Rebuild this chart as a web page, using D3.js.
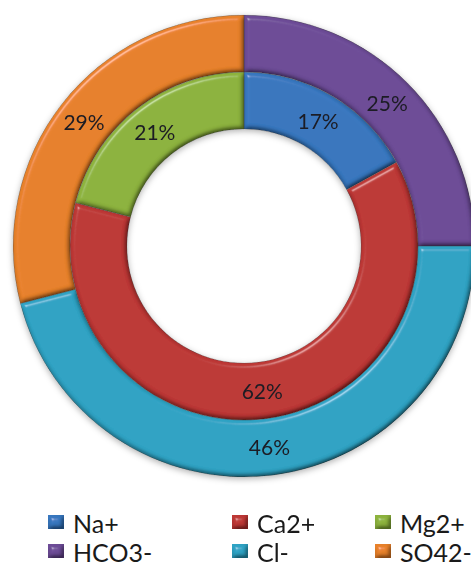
<!DOCTYPE html>
<html>
<head>
<meta charset="utf-8">
<script src="https://cdn.jsdelivr.net/npm/d3@7"></script>
<style>
  html, body { margin: 0; padding: 0; background: #ffffff; }
  svg { display: block; }
</style>
</head>
<body>
<svg id="chart" width="471" height="575"></svg>
<script>
// Ion composition (% of total), inner ring = cations, outer ring = anions
const cations = ["Na+", "Ca2+", "Mg2+"];
const cationValues = [17, 62, 21];
const anions = ["HCO3-", "Cl-", "SO42-"];
const anionValues = [25, 46, 29];

const legendItems = ["Na+", "Ca2+", "Mg2+", "HCO3-", "Cl-", "SO42-"];
const colors = ["#3777bf", "#bd3735", "#8db33e", "#6d4c97", "#2fa3c4", "#e8812a"];

const svg = d3.select("#chart");
const cx = 244, cy = 246;
const rHole = 117, rMid = 174, rOuter = 231;

const color = d3.scaleOrdinal().domain(legendItems).range(colors);

const defs = svg.append("defs");

// Soft bevel: lighting computed from a blurred alpha height map
const bevel = defs.append("filter").attr("id", "bevel")
  .attr("x", "-5%").attr("y", "-5%").attr("width", "110%").attr("height", "110%");
bevel.append("feGaussianBlur").attr("in", "SourceAlpha").attr("stdDeviation", 2.4).attr("result", "blur");
const spec = bevel.append("feSpecularLighting").attr("in", "blur")
  .attr("surfaceScale", 4).attr("specularConstant", 1).attr("specularExponent", 60)
  .attr("lighting-color", "#ffffff").attr("result", "spec");
spec.append("feDistantLight").attr("azimuth", 235).attr("elevation", 45);
bevel.append("feComposite").attr("in", "spec").attr("in2", "SourceAlpha").attr("operator", "in").attr("result", "specIn");
const diff = bevel.append("feDiffuseLighting").attr("in", "blur")
  .attr("surfaceScale", 4).attr("diffuseConstant", 1.12)
  .attr("lighting-color", "#ffffff").attr("result", "diff");
diff.append("feDistantLight").attr("azimuth", 235).attr("elevation", 62);
bevel.append("feComposite").attr("in", "SourceGraphic").attr("in2", "diff")
  .attr("operator", "arithmetic").attr("k1", 1).attr("k2", 0).attr("k3", 0).attr("k4", 0).attr("result", "lit");
bevel.append("feComposite").attr("in", "lit").attr("in2", "specIn")
  .attr("operator", "arithmetic").attr("k1", 0).attr("k2", 1).attr("k3", 0.3).attr("k4", 0).attr("result", "shaded");
bevel.append("feComposite").attr("in", "shaded").attr("in2", "SourceAlpha").attr("operator", "in");

// Drop shadow around the whole doughnut
const shadow = defs.append("filter").attr("id", "shadow")
  .attr("x", "-10%").attr("y", "-10%").attr("width", "120%").attr("height", "120%");
shadow.append("feDropShadow").attr("dx", 0).attr("dy", 2).attr("stdDeviation", 3)
  .attr("flood-color", "#000").attr("flood-opacity", 0.3);

const pie = d3.pie().sort(null).value(d => d.value);

const rings = [
  { names: anions, values: anionValues, r0: rMid, r1: rOuter },
  { names: cations, values: cationValues, r0: rHole, r1: rMid }
];

const chart = svg.append("g").attr("transform", `translate(${cx},${cy})`);
const ringLayer = chart.append("g").attr("filter", "url(#shadow)");

rings.forEach(ring => {
  const data = ring.names.map((n, i) => ({ name: n, value: ring.values[i] }));
  const arcs = pie(data);
  const arc = d3.arc().innerRadius(ring.r0).outerRadius(ring.r1);
  ringLayer.append("g").selectAll("path").data(arcs).join("path")
    .attr("d", arc)
    .attr("fill", d => color(d.data.name))
    .attr("stroke", "#4a4a4a")
    .attr("stroke-opacity", 0.6)
    .attr("stroke-width", 0.8)
    .attr("filter", "url(#bevel)");
  ring.arcs = arcs;
  ring.arc = arc;
});

// Percentage labels at slice centroids
rings.forEach(ring => {
  const total = d3.sum(ring.values);
  chart.append("g").selectAll("text").data(ring.arcs).join("text")
    .attr("transform", d => `translate(${ring.arc.centroid(d)})`)
    .attr("text-anchor", "middle")
    .attr("dominant-baseline", "central")
    .attr("font-family", "Lato, 'Open Sans', sans-serif")
    .attr("font-size", 21)
    .attr("fill", "#1c1c24")
    .text(d => Math.round(d.data.value / total * 100) + "%");
});

// Legend: 3 columns x 2 rows
const legendX = [48, 232, 375];
const legendY = [522, 551];
const legend = svg.append("g");
legendItems.forEach((name, i) => {
  const col = i % 3, row = Math.floor(i / 3);
  const g = legend.append("g").attr("transform", `translate(${legendX[col]},${legendY[row]})`);
  g.append("rect").attr("x", 0).attr("y", -7).attr("width", 16).attr("height", 14)
    .attr("fill", color(name)).attr("filter", "url(#bevel)");
  g.append("text").attr("x", 25).attr("y", 1)
    .attr("dominant-baseline", "central")
    .attr("font-family", "Lato, 'Open Sans', sans-serif")
    .attr("font-size", 25)
    .attr("fill", "#1a1a1a")
    .text(name);
});
</script>
</body>
</html>
